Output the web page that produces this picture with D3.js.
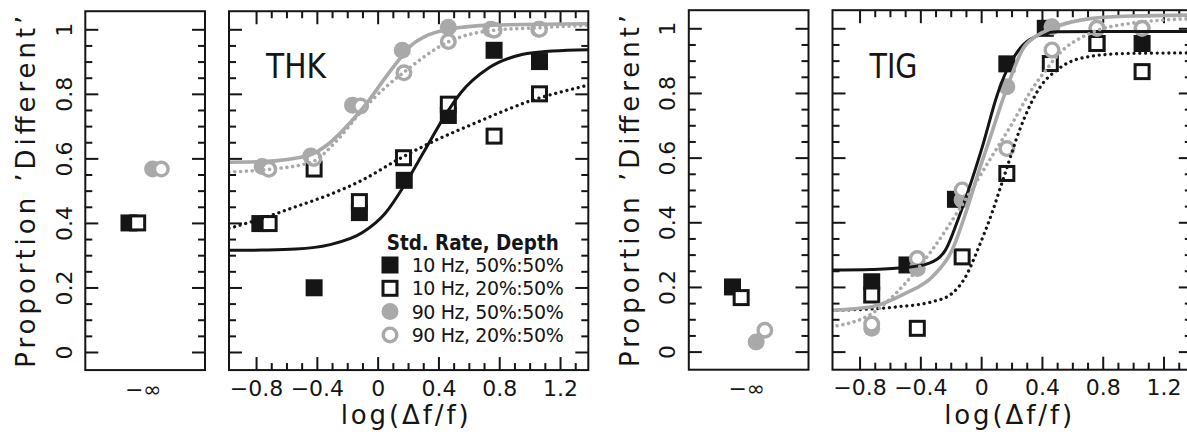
<!DOCTYPE html>
<html>
<head>
<meta charset="utf-8">
<script src="https://cdn.jsdelivr.net/npm/d3@7"></script>
<style>
  body { margin: 0; background: #fff; }
  svg { display: block; font-family: "DejaVu Sans", sans-serif; }
</style>
</head>
<body>
<svg id="chart" width="1187" height="435"></svg>
<script>
// ---------------- data ----------------
const subjects = ["THK", "TIG"];
const seriesLabels = ["10 Hz, 50%:50%", "10 Hz, 20%:50%", "90 Hz, 50%:50%", "90 Hz, 20%:50%"];
const legendTitle = "Std. Rate, Depth";
const xTickValues = [-0.8, -0.4, 0, 0.4, 0.8, 1.2];
const yTickValues = [0, 0.2, 0.4, 0.6, 0.8, 1];
const baselineLabel = "\u2212\u221E";
const yAxisLabel = "Proportion \u2019Different\u2019";
const xAxisLabel = "log(\u0394f/f)";

// proportion 'different' with no rate change (log Δf/f = −∞), one value per series
const thkBaseline = [0.40, 0.40, 0.567, 0.567];
const tigBaseline = [0.20, 0.167, 0.03, 0.066];

// THK measured points
const thk10_50X = [-0.775, -0.418, -0.12, 0.175, 0.465, 0.766, 1.065];
const thk10_50Y = [0.398, 0.199, 0.432, 0.532, 0.733, 0.935, 0.90];
const thk10_20X = [-0.714, -0.418, -0.12, 0.17, 0.465, 0.766, 1.065];
const thk10_20Y = [0.398, 0.567, 0.466, 0.602, 0.768, 0.669, 0.80];
const thk90_50X = [-0.76, -0.44, -0.165, 0.162, 0.465, 0.745, 1.06];
const thk90_50Y = [0.575, 0.607, 0.765, 0.935, 1.006, 1.0, 1.0];
const thk90_20X = [-0.716, -0.42, -0.112, 0.173, 0.465, 0.766, 1.065];
const thk90_20Y = [0.566, 0.60, 0.762, 0.865, 0.962, 0.997, 1.0];

// THK fitted psychometric functions
const thkFit10_50X = [-0.978, -0.76, -0.54, -0.32, -0.1, 0.05, 0.18, 0.31, 0.44, 0.55, 0.73, 0.95, 1.15, 1.386];
const thkFit10_50Y = [0.315, 0.316, 0.319, 0.332, 0.37, 0.43, 0.52, 0.625, 0.73, 0.805, 0.88, 0.922, 0.933, 0.937];
const thkFit10_20X = [-0.978, -0.76, -0.54, -0.32, -0.1, 0.14, 0.4, 0.62, 0.82, 1.015, 1.2, 1.386];
const thkFit10_20Y = [0.383, 0.414, 0.45, 0.487, 0.533, 0.598, 0.66, 0.705, 0.745, 0.78, 0.805, 0.827];
const thkFit90_50X = [-0.978, -0.76, -0.45, -0.32, -0.167, -0.057, 0.053, 0.14, 0.22, 0.3, 0.465, 0.75, 1.386];
const thkFit90_50Y = [0.588, 0.59, 0.61, 0.646, 0.718, 0.78, 0.852, 0.905, 0.95, 0.975, 1.0, 1.013, 1.017];
const thkFit90_20X = [-0.978, -0.716, -0.431, -0.277, -0.101, 0.053, 0.17, 0.465, 0.762, 1.058, 1.386];
const thkFit90_20Y = [0.558, 0.566, 0.589, 0.651, 0.749, 0.821, 0.866, 0.961, 0.997, 1.005, 1.012];

// TIG measured points
const tig10_50X = [-0.72, -0.488, -0.169, 0.169, 0.422, 0.762, 1.059];
const tig10_50Y = [0.216, 0.268, 0.471, 0.89, 1.0, 0.953, 0.953];
const tig10_20X = [-0.72, -0.42, -0.125, 0.169, 0.455, 0.762, 1.059];
const tig10_20Y = [0.175, 0.072, 0.293, 0.551, 0.891, 0.953, 0.866];
const tig90_50X = [-0.72, -0.42, -0.125, 0.169, 0.466, 0.762, 1.059];
const tig90_50Y = [0.072, 0.257, 0.469, 0.819, 1.005, 1.0, 1.0];
const tig90_20X = [-0.72, -0.42, -0.125, 0.169, 0.466, 0.762, 1.059];
const tig90_20Y = [0.085, 0.288, 0.50, 0.628, 0.933, 1.0, 1.0];

// TIG fitted psychometric functions
const tigFit10_50X = [-0.985, -0.72, -0.5, -0.345, -0.235, -0.147, -0.083, 0.015, 0.103, 0.15, 0.19, 0.235, 0.32, 0.5, 0.8, 1.4];
const tigFit10_50Y = [0.252, 0.254, 0.26, 0.273, 0.314, 0.415, 0.5, 0.645, 0.79, 0.85, 0.89, 0.925, 0.965, 0.989, 0.99, 0.99];
const tigFit10_20X = [-0.985, -0.76, -0.543, -0.323, -0.191, -0.103, -0.015, 0.072, 0.125, 0.16, 0.257, 0.389, 0.499, 0.652, 0.938, 1.4];
const tigFit10_20Y = [0.128, 0.131, 0.139, 0.154, 0.18, 0.231, 0.324, 0.43, 0.505, 0.555, 0.69, 0.819, 0.871, 0.907, 0.922, 0.924];
const tigFit90_50X = [-0.985, -0.718, -0.499, -0.323, -0.191, -0.09, 0, 0.04, 0.169, 0.279, 0.36, 0.455, 0.718, 1.0, 1.4];
const tigFit90_50Y = [0.128, 0.139, 0.18, 0.231, 0.314, 0.445, 0.58, 0.635, 0.815, 0.94, 0.975, 0.998, 1.03, 1.038, 1.041];
const tigFit90_20X = [-0.985, -0.718, -0.499, -0.323, -0.147, 0.015, 0.072, 0.191, 0.345, 0.433, 0.5, 0.72, 0.98, 1.4];
const tigFit90_20Y = [0.077, 0.118, 0.211, 0.314, 0.438, 0.561, 0.605, 0.695, 0.819, 0.875, 0.915, 0.985, 1.015, 1.03];

// ---------------- styles & layout ----------------
const BLACK = "#151515";
const GRAY = "#a9a9a9";
const seriesStyle = [
  { shape: "square", filled: true,  color: BLACK, dotted: false, jitter: -0.27 },
  { shape: "square", filled: false, color: BLACK, dotted: true,  jitter: -0.125 },
  { shape: "circle", filled: true,  color: GRAY,  dotted: false, jitter: 0.125 },
  { shape: "circle", filled: false, color: GRAY,  dotted: true,  jitter: 0.27 }
];

const figures = [
  {
    name: subjects[0], dx: 0, yRange: [352, 29.3], legend: true,
    baseline: thkBaseline,
    ptsX: [thk10_50X, thk10_20X, thk90_50X, thk90_20X],
    ptsY: [thk10_50Y, thk10_20Y, thk90_50Y, thk90_20Y],
    fitX: [thkFit10_50X, thkFit10_20X, thkFit90_50X, thkFit90_20X],
    fitY: [thkFit10_50Y, thkFit10_20Y, thkFit90_50Y, thkFit90_20Y]
  },
  {
    name: subjects[1], dx: 603.5, yRange: [351.6, 28.3], legend: false,
    baseline: tigBaseline,
    ptsX: [tig10_50X, tig10_20X, tig90_50X, tig90_20X],
    ptsY: [tig10_50Y, tig10_20Y, tig90_50Y, tig90_20Y],
    fitX: [tigFit10_50X, tigFit10_20X, tigFit90_50X, tigFit90_20X],
    fitY: [tigFit10_50Y, tigFit10_20Y, tigFit90_50Y, tigFit90_20Y]
  }
];

const svg = d3.select("#chart");
const yFrame = [-0.056, 1.056];
const xFrame = [-0.978, 1.386];
const MAJOR = 13, MINOR = 7;

function fmtY(d) { return d === 0 ? "0" : d === 1 ? "1" : d.toFixed(1); }
function fmtX(d) { return d === 0 ? "0" : d.toFixed(1).replace("-", "\u2212"); }

function drawSymbol(g, st, cx, cy) {
  if (st.shape === "square") {
    if (st.filled) {
      g.append("rect").attr("x", cx - 8.5).attr("y", cy - 8.5).attr("width", 17).attr("height", 17)
        .attr("fill", st.color);
    } else {
      g.append("rect").attr("x", cx - 7).attr("y", cy - 7).attr("width", 14).attr("height", 14)
        .attr("fill", "#fff").attr("stroke", st.color).attr("stroke-width", 3);
    }
  } else {
    if (st.filled) {
      g.append("circle").attr("cx", cx).attr("cy", cy).attr("r", 8.5).attr("fill", st.color);
    } else {
      g.append("circle").attr("cx", cx).attr("cy", cy).attr("r", 6.8)
        .attr("fill", "#fff").attr("stroke", st.color).attr("stroke-width", 3.4);
    }
  }
}

function styleAxis(g) {
  g.select(".domain").remove();
  g.selectAll(".tick line").attr("stroke", BLACK).attr("stroke-width", 2);
  g.selectAll("text").attr("fill", BLACK).attr("font-size", 22)
    .attr("font-family", "DejaVu Sans, sans-serif");
}

function yTickSet(major) {
  const all = d3.range(0, 21).map(i => +(i * 0.05).toFixed(2));
  return all.filter(v => major ? yTickValues.some(t => Math.abs(t - v) < 1e-6)
                                : !yTickValues.some(t => Math.abs(t - v) < 1e-6));
}
function xMinorSet() {
  return d3.range(0, 22).map(i => +(-0.8 + i * 0.1).toFixed(2))
    .filter(v => !xTickValues.some(t => Math.abs(t - v) < 1e-6));
}

figures.forEach((fig, fi) => {
  const dx = fig.dx;
  const y = d3.scaleLinear().domain([0, 1]).range(fig.yRange);
  const top = y(yFrame[1]), bottom = y(yFrame[0]);

  // ---- baseline (−∞) panel ----
  const xs = d3.scaleLinear().domain([-1, 1]).range([85.3 + dx, 205 + dx]);
  const gS = svg.append("g");
  // y ticks, both sides
  [[true, MAJOR], [false, MINOR]].forEach(([maj, len]) => {
    const aL = d3.axisLeft(y).tickValues(yTickSet(maj)).tickSize(-len)
      .tickFormat(maj ? fmtY : () => "");
    gS.append("g").attr("transform", `translate(${xs.range()[0]},0)`).call(aL).call(styleAxis)
      .call(g => g.selectAll("text")
        .attr("x", null).attr("dy", null).attr("text-anchor", "middle")
        .attr("transform", "translate(-13.5,0) rotate(-90)"));
    const aR = d3.axisRight(y).tickValues(yTickSet(maj)).tickSize(-len).tickFormat(() => "");
    gS.append("g").attr("transform", `translate(${xs.range()[1]},0)`).call(aR).call(styleAxis);
  });
  // −∞ label
  gS.append("g").attr("transform", `translate(0,${bottom})`)
    .call(d3.axisBottom(xs).tickValues([-0.04]).tickSize(0).tickPadding(11).tickFormat(() => baselineLabel))
    .call(styleAxis);
  gS.append("rect").attr("x", xs.range()[0]).attr("y", top)
    .attr("width", xs.range()[1] - xs.range()[0]).attr("height", bottom - top)
    .attr("fill", "none").attr("stroke", BLACK).attr("stroke-width", 2);
  seriesStyle.forEach((st, si) => drawSymbol(gS, st, xs(st.jitter), y(fig.baseline[si])));

  // y axis title
  svg.append("text")
    .attr("transform", `translate(${xs.range()[0] - 50},${(top + bottom) / 2 + 1}) rotate(-90)`)
    .attr("text-anchor", "middle").attr("font-size", 26).attr("fill", BLACK)
    .attr("textLength", 352).attr("lengthAdjust", "spacing")
    .text(yAxisLabel);

  // ---- main panel ----
  const x = d3.scaleLinear().domain(xFrame).range([229 + dx, 588.3 + dx]);
  const gM = svg.append("g");
  [[xTickValues, MAJOR], [xMinorSet(), MINOR]].forEach(([vals, len], k) => {
    gM.append("g").attr("transform", `translate(0,${bottom})`)
      .call(d3.axisBottom(x).tickValues(vals).tickSize(-len).tickPadding(10)
        .tickFormat(k === 0 ? fmtX : () => ""))
      .call(styleAxis);
    gM.append("g").attr("transform", `translate(0,${top})`)
      .call(d3.axisTop(x).tickValues(vals).tickSize(-len).tickFormat(() => ""))
      .call(styleAxis);
  });
  [[true, MAJOR], [false, MINOR]].forEach(([maj, len]) => {
    gM.append("g").attr("transform", `translate(${x.range()[0]},0)`)
      .call(d3.axisLeft(y).tickValues(yTickSet(maj)).tickSize(-len).tickFormat(() => ""))
      .call(styleAxis);
    gM.append("g").attr("transform", `translate(${x.range()[1]},0)`)
      .call(d3.axisRight(y).tickValues(yTickSet(maj)).tickSize(-len).tickFormat(() => ""))
      .call(styleAxis);
  });

  // subject name
  gM.append("text").attr("x", 266 + dx).attr("y", 78).attr("font-size", 34)
    .attr("fill", BLACK).attr("textLength", fig.name === "THK" ? 60 : 48)
    .attr("lengthAdjust", "spacingAndGlyphs").text(fig.name);

  // symbols (squares first, then circles)
  const clipId = "clip" + fi;
  svg.append("clipPath").attr("id", clipId).append("rect")
    .attr("x", x.range()[0]).attr("y", top).attr("width", x.range()[1] - x.range()[0])
    .attr("height", bottom - top);
  const gP = gM.append("g");
  seriesStyle.forEach((st, si) => {
    fig.ptsX[si].forEach((xv, i) => drawSymbol(gP, st, x(xv), y(fig.ptsY[si][i])));
  });

  // fitted curves, drawn over the symbols
  const line = d3.line().x(d => x(d[0])).y(d => y(d[1])).curve(d3.curveMonotoneX);
  const gL = gM.append("g").attr("clip-path", `url(#${clipId})`);
  seriesStyle.forEach((st, si) => {
    const pts = fig.fitX[si].map((xv, i) => [xv, fig.fitY[si][i]]);
    const p = gL.append("path").attr("d", line(pts)).attr("fill", "none")
      .attr("stroke", st.color);
    if (st.dotted) {
      p.attr("stroke-width", st.color === GRAY ? 3.6 : 3.3)
        .attr("stroke-dasharray", "0.01 5.8").attr("stroke-linecap", "round");
    } else {
      p.attr("stroke-width", st.color === GRAY ? 3.6 : 3);
    }
  });

  // frame
  gM.append("rect").attr("x", x.range()[0]).attr("y", top)
    .attr("width", x.range()[1] - x.range()[0]).attr("height", bottom - top)
    .attr("fill", "none").attr("stroke", BLACK).attr("stroke-width", 2);

  // x axis title
  gM.append("text").attr("x", (x.range()[0] + x.range()[1]) / 2 - 4).attr("y", 424)
    .attr("text-anchor", "middle").attr("font-size", 26).attr("fill", BLACK)
    .attr("textLength", 128).attr("lengthAdjust", "spacing").text(xAxisLabel);

  // legend
  if (fig.legend) {
    const gLg = gM.append("g");
    gLg.append("text").attr("x", 386.7 + dx).attr("y", 250).attr("font-size", 21)
      .attr("font-weight", "bold").attr("fill", BLACK)
      .attr("textLength", 172).attr("lengthAdjust", "spacingAndGlyphs").text(legendTitle);
    seriesStyle.forEach((st, si) => {
      const cy = 265 + si * 23.3;
      drawSymbol(gLg, st, 390 + dx, cy);
      gLg.append("text").attr("x", 411.7 + dx).attr("y", cy + 7).attr("font-size", 19)
        .attr("fill", BLACK).attr("textLength", 152).attr("lengthAdjust", "spacing")
        .text(seriesLabels[si]);
    });
  }
});
</script>
</body>
</html>
